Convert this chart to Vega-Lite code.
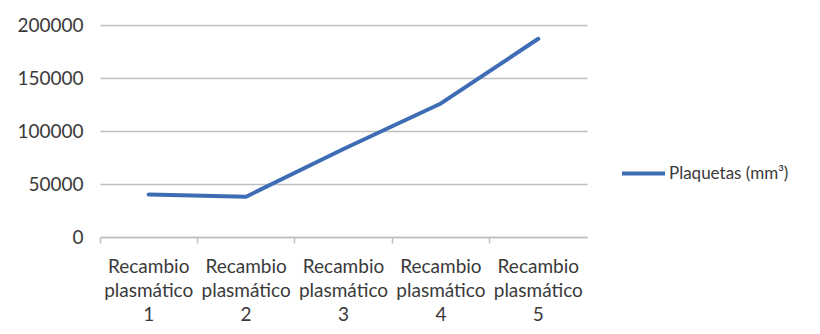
{
  "$schema": "https://vega.github.io/schema/vega-lite/v6.json",
  "width": 487,
  "height": 212,
  "autosize": "none",
  "padding": {"left": 100, "top": 25, "right": 233, "bottom": 97},
  "background": "white",
  "config": {
    "view": {"stroke": null},
    "font": "Lato",
    "axis": {"labelFont": "Lato", "labelColor": "#3A3A3A", "labelFontSize": 19}
  },
  "data": {
    "values": [
      {"recambio": "Recambio plasmático 1", "serie": "Plaquetas (mm³)", "valor": 40000},
      {"recambio": "Recambio plasmático 2", "serie": "Plaquetas (mm³)", "valor": 38000},
      {"recambio": "Recambio plasmático 3", "serie": "Plaquetas (mm³)", "valor": 83000},
      {"recambio": "Recambio plasmático 4", "serie": "Plaquetas (mm³)", "valor": 126000},
      {"recambio": "Recambio plasmático 5", "serie": "Plaquetas (mm³)", "valor": 187000}
    ]
  },
  "mark": {"type": "line", "strokeWidth": 4, "strokeCap": "round", "strokeJoin": "round"},
  "encoding": {
    "x": {
      "field": "recambio",
      "type": "nominal",
      "sort": null,
      "scale": {"type": "band", "paddingInner": 0, "paddingOuter": 0},
      "axis": {
        "title": null,
        "labelAngle": 0,
        "bandPosition": 0,
        "grid": false,
        "domainColor": "#BFBFBF",
        "domainWidth": 1.5,
        "tickColor": "#BFBFBF",
        "tickWidth": 1.5,
        "tickSize": 6,
        "labelPadding": 14,
        "labelLineHeight": 24,
        "labelExpr": "split(datum.label, ' ')",
        "labelBaseline": "top"
      }
    },
    "y": {
      "field": "valor",
      "type": "quantitative",
      "scale": {"domain": [0, 200000], "nice": false},
      "axis": {
        "title": null,
        "values": [0, 50000, 100000, 150000, 200000],
        "format": "d",
        "domain": false,
        "ticks": false,
        "grid": true,
        "gridColor": "#BFBFBF",
        "gridWidth": 1.5,
        "labelPadding": 17
      }
    },
    "color": {
      "field": "serie",
      "type": "nominal",
      "scale": {"range": ["#3E6DB5"]},
      "legend": {
        "title": null,
        "orient": "none",
        "legendX": 520,
        "legendY": 125,
        "symbolType": "stroke",
        "symbolSize": 1849,
        "symbolStrokeWidth": 4,
        "labelFontSize": 17,
        "labelColor": "#3A3A3A",
        "labelFont": "Lato",
        "labelOffset": 2,
        "labelLimit": 200
      }
    }
  }
}
